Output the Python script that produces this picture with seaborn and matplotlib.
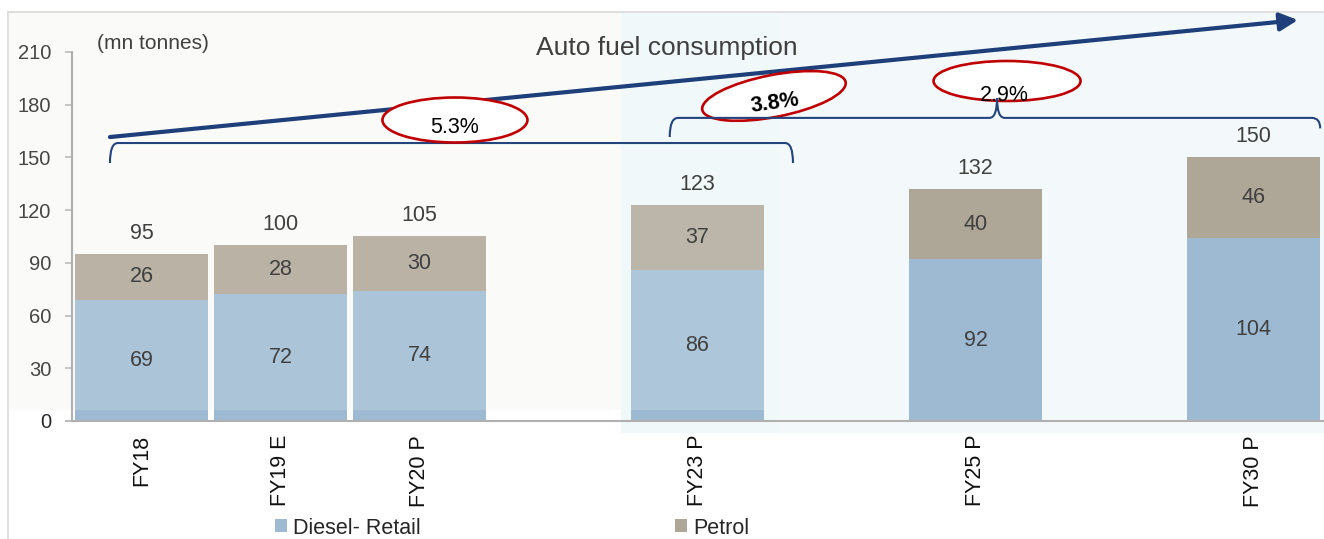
import matplotlib
matplotlib.use("Agg")
import matplotlib.pyplot as plt
import matplotlib.transforms as mtransforms
from matplotlib.patches import Ellipse, Rectangle, PathPatch
from matplotlib.path import Path
from matplotlib.lines import Line2D
import seaborn as sns

# ---------------- data ----------------
categories = ["FY18", "FY19 E", "FY20 P", "FY23 P", "FY25 P", "FY30 P"]
diesel = [69, 72, 74, 86, 92, 104]
petrol = [26, 28, 30, 37, 40, 46]
totals = [95, 100, 105, 123, 132, 150]
order = ["FY18", "FY19 E", "FY20 P", "gap1", "FY23 P", "gap2", "FY25 P", "gap3", "FY30 P"]
cagr_labels = ["5.3%", "3.8%", "2.9%"]
yticks = [0, 30, 60, 90, 120, 150, 180, 210]

DIESEL_C = "#9dbad2"
PETROL_C = "#aea696"
NAVY = "#1f3f7a"
RED = "#c00000"
TXT = "#404040"

sns.set_theme(style="white")
plt.rcParams["font.family"] = ["Liberation Sans", "DejaVu Sans"]

W, H = 1324, 539
fig = plt.figure(figsize=(W / 100, H / 100), dpi=100)
fig.patch.set_facecolor("white")


def fx(px):
    return px / W


def fy(py):
    return 1 - py / H


ax = fig.add_axes([fx(72), fy(421), fx(1323) - fx(72), fy(52) - fy(421)])
ax.patch.set_alpha(0)

# background panels (behind the axes)
for (x0, x1, y0, y1, c) in [(8, 621, 13, 410, "#fafaf8"),
                            (621, 777, 13, 433, "#f1f8fa"),
                            (777, 1324, 13, 433, "#f3f9fb")]:
    fig.patches.append(Rectangle((fx(x0), fy(y1)), fx(x1) - fx(x0), fy(y0) - fy(y1),
                                 transform=fig.transFigure, facecolor=c,
                                 edgecolor="none", zorder=-2))
# frame lines
fig.lines.append(Line2D([fx(8), fx(8)], [0, fy(12)], transform=fig.transFigure,
                        color="#d9d9d9", lw=1.2, zorder=-1))
fig.lines.append(Line2D([fx(8), 1], [fy(12), fy(12)], transform=fig.transFigure,
                        color="#d9d9d9", lw=1.2, zorder=-1))

# ---------------- bars ----------------
sns.barplot(x=categories, y=totals, order=order, color=PETROL_C, saturation=1,
            width=0.96, linewidth=0, ax=ax, zorder=1)
sns.barplot(x=categories, y=diesel, order=order, color=DIESEL_C, saturation=1,
            width=0.96, linewidth=0, ax=ax, zorder=1)

# translucent washes over the left bars
ax.add_patch(Rectangle((fx(8), fy(410)), fx(621) - fx(8), fy(13) - fy(410),
                       transform=fig.transFigure, facecolor="white", alpha=0.15,
                       edgecolor="none", zorder=1.5, clip_on=False))
ax.add_patch(Rectangle((fx(621), fy(410)), fx(777) - fx(621), fy(13) - fy(410),
                       transform=fig.transFigure, facecolor="#f0f8fa", alpha=0.2,
                       edgecolor="none", zorder=1.5, clip_on=False))

# labels
for cat, d, p, t in zip(categories, diesel, petrol, totals):
    xi = order.index(cat)
    ax.text(xi, d / 2, f"{d}", ha="center", va="center", fontsize=15.5, color=TXT, zorder=4)
    ax.text(xi, (d + t) / 2, f"{p}", ha="center", va="center", fontsize=15.5, color=TXT, zorder=4)
    ax.annotate(f"{t}", (xi, t), xytext=(0, 10), textcoords="offset pixels",
                ha="center", va="bottom", fontsize=15.5, color=TXT, zorder=4,
                annotation_clip=False)

# ---------------- axes styling ----------------
ax.set_xlim(-0.5, len(order) - 0.5)
ax.set_ylim(0, 210)
ax.set_yticks(yticks)
ax.set_yticklabels([str(v) for v in yticks], fontsize=14.5, color="#262626")
ax.set_xticks(range(len(order)))
ax.set_xticklabels([c if c in categories else "" for c in order], rotation=90,
                   fontsize=15.5, color="#111111")
ax.set_xticks([i - 0.5 for i in range(len(order) + 1)], minor=True)
ax.tick_params(axis="x", which="major", length=0, pad=10)
ax.tick_params(axis="x", which="minor", length=6, width=1.2, color="#b0b0b0", direction="out")
ax.tick_params(axis="y", length=5, width=1.2, color="#b0b0b0", direction="out", pad=10, left=True)
ax.set_xlabel("")
ax.set_ylabel("")
for s in ["top", "right"]:
    ax.spines[s].set_visible(False)
for s in ["left", "bottom"]:
    ax.spines[s].set_color("#b0b0b0")
    ax.spines[s].set_linewidth(1.5)
ax.grid(False)

# ---------------- annotations ----------------
ax.text(-0.32, 214.6, "(mn tonnes)", ha="left", va="center", fontsize=15,
        color=TXT, clip_on=False)
ax.text(3.78, 212.3, "Auto fuel consumption", ha="center", va="center",
        fontsize=19, color=TXT, clip_on=False, zorder=3)

# trend arrow
ax.annotate("", xy=(8.32, 228.2), xytext=(-0.227, 161.6),
            arrowprops=dict(arrowstyle="-|>,head_length=0.6,head_width=0.3",
                            mutation_scale=18, lw=3, color=NAVY,
                            shrinkA=0, shrinkB=0),
            annotation_clip=False, zorder=3)


def ell(x, y, w_px, h_px, ang):
    tr = fig.dpi_scale_trans + mtransforms.ScaledTranslation(x, y, ax.transData)
    e = Ellipse((0, 0), w_px / 100, h_px / 100, angle=ang, transform=tr,
                facecolor="white", edgecolor=RED, lw=1.9, zorder=4, clip_on=False)
    ax.add_patch(e)


ell(2.255, 171.3, 145, 45, 0)
ell(4.55, 185.0, 146, 42, 11)
ell(6.227, 193.5, 147, 40, 0)

# brackets
P = Path
b1 = Path([(-0.227, 146.8), (-0.227, 158.2), (-0.17, 158.2),
           (4.63, 158.2), (4.687, 158.2), (4.687, 146.8)],
          [P.MOVETO, P.CURVE3, P.CURVE3, P.LINETO, P.CURVE3, P.CURVE3])
b2 = Path([(3.80, 161.6), (3.80, 172.5), (3.86, 172.5),
           (6.10, 172.5), (6.155, 172.5), (6.155, 183.8),
           (6.155, 172.5), (6.21, 172.5),
           (8.42, 172.5), (8.48, 172.5), (8.48, 166.5)],
          [P.MOVETO, P.CURVE3, P.CURVE3,
           P.LINETO, P.CURVE3, P.CURVE3,
           P.CURVE3, P.CURVE3,
           P.LINETO, P.CURVE3, P.CURVE3])
for b, z in [(b1, 3.5), (b2, 5)]:
    ax.add_patch(PathPatch(b, facecolor="none", edgecolor="#24447e", lw=1.5,
                           zorder=z, clip_on=False))

ax.text(2.255, 166.8, cagr_labels[0], ha="center", va="center", fontsize=15.5,
        color="black", zorder=4.5, clip_on=False)
ax.text(4.558, 181.0, cagr_labels[1], ha="center", va="center", fontsize=15.5,
        fontweight="bold", rotation=8, color="black", zorder=4.5, clip_on=False)
ax.text(6.21, 185.5, cagr_labels[2], ha="center", va="center", fontsize=15.5,
        color="black", zorder=4.5, clip_on=False)

# legend
handles = [Rectangle((0, 0), 1, 1, facecolor=DIESEL_C, edgecolor="none"),
           Rectangle((0, 0), 1, 1, facecolor=PETROL_C, edgecolor="none")]
fig.legend(handles, ["Diesel- Retail", "Petrol"], loc="center left",
           bbox_to_anchor=(fx(275), fy(528)), ncol=2, frameon=False,
           fontsize=15.5, handlelength=0.55, handleheight=0.55, handletextpad=0.3,
           columnspacing=11.8, borderaxespad=0, borderpad=0)

fig.savefig("out.png", dpi=100)
